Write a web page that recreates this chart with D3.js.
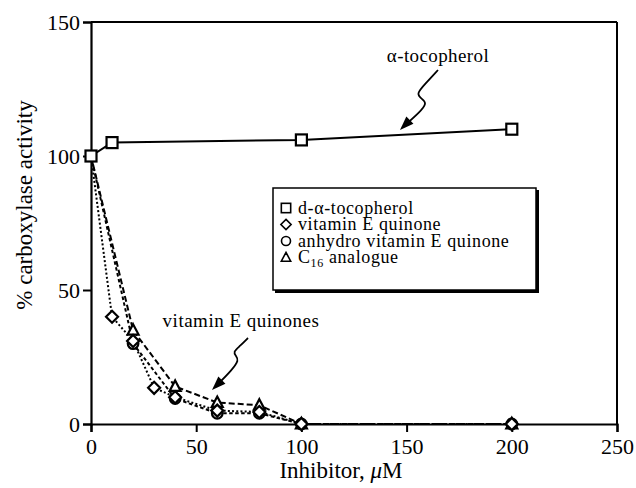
<!DOCTYPE html>
<html><head><meta charset="utf-8">
<script src="https://cdn.jsdelivr.net/npm/d3@7"></script>
<style>body{margin:0;background:#fff}svg{display:block}
svg text{font-family:"Liberation Serif","DejaVu Serif","Times New Roman",serif !important;fill:#000}</style>
</head><body>
<svg id="c" width="636" height="488"></svg>
<script>
const xTicks = [0, 50, 100, 150, 200, 250];
const yTicks = [0, 50, 100, 150];
const tocoX = [0, 10, 100, 200];
const tocoY = [100, 105, 106, 110];
const quinoneX = [0, 10, 20, 30, 40, 60, 80, 100, 200];
const quinoneY = [100, 40, 31, 13.5, 10, 5, 4.5, 0, 0];
const anhydroX = [0, 20, 40, 60, 80, 100, 200];
const anhydroY = [100, 30, 9.5, 4, 4, 0, 0];
const c16X = [0, 20, 40, 60, 80, 100, 200];
const c16Y = [100, 35, 14, 8, 7, 0, 0];
const legendLabels = ["d-α-tocopherol", "vitamin E quinone", "anhydro vitamin E quinone", "C16 analogue"];

const svg = d3.select("#c");
const L = 91, R = 617, T = 22, B = 424;
const x = d3.scaleLinear().domain([0, 250]).range([L, R]);
const y = d3.scaleLinear().domain([0, 150]).range([B, T]);

// frame
svg.append("line").attr("x1", L).attr("x2", R).attr("y1", T).attr("y2", T).attr("stroke", "#000").attr("stroke-width", 2);
svg.append("line").attr("x1", R).attr("x2", R).attr("y1", T).attr("y2", B).attr("stroke", "#000").attr("stroke-width", 2);

const xa = svg.append("g").attr("transform", `translate(0,${B})`)
  .call(d3.axisBottom(x).tickValues(xTicks).tickSize(8).tickPadding(6).tickFormat(d3.format("d")));
const ya = svg.append("g").attr("transform", `translate(${L},0)`)
  .call(d3.axisLeft(y).tickValues(yTicks).tickSize(8).tickPadding(3).tickFormat(d3.format("d")));
[xa, ya].forEach(g => {
  g.select(".domain").attr("stroke-width", 2.2);
  g.selectAll(".tick line").attr("stroke-width", 2);
  g.selectAll("text").attr("font-size", 22);
});
xa.selectAll(".tick line").attr("y1", 0);
ya.selectAll("text").attr("dy", "0.36em");

// axis labels
const xl = svg.append("text").attr("x", 341).attr("y", 478).attr("text-anchor", "middle").attr("font-size", 23);
xl.append("tspan").text("Inhibitor,  ");
xl.append("tspan").attr("font-style", "italic").text("μ");
xl.append("tspan").text("M");
svg.append("text").attr("transform", "translate(32,205) rotate(-90)").attr("text-anchor", "middle")
  .attr("font-size", 23).text("% carboxylase activity");

const line = d3.line().x(d => x(d[0])).y(d => y(d[1]));
const zip = (a, b) => a.map((v, i) => [v, b[i]]);

const series = [
  {pts: zip(quinoneX, quinoneY), dash: "2,2.2", sym: "diamond"},
  {pts: zip(anhydroX, anhydroY), dash: "3.5,2.5", sym: "circle"},
  {pts: zip(c16X, c16Y), dash: "6,3", sym: "triangle"},
];
series.forEach(s => {
  svg.append("path").attr("d", line(s.pts)).attr("fill", "none").attr("stroke", "#000")
    .attr("stroke-width", 2).attr("stroke-dasharray", s.dash);
});
svg.append("path").attr("d", line(zip(tocoX, tocoY))).attr("fill", "none").attr("stroke", "#000").attr("stroke-width", 2);

function marker(g, type, cx, cy, scale) {
  scale = scale || 1;
  let el;
  if (type === "square") {
    const h = 5.5 * scale;
    el = g.append("rect").attr("x", cx - h).attr("y", cy - h).attr("width", 2 * h).attr("height", 2 * h);
  } else if (type === "diamond") {
    const h = 6 * scale;
    el = g.append("path").attr("d", `M${cx},${cy - h}L${cx + h},${cy}L${cx},${cy + h}L${cx - h},${cy}Z`);
  } else if (type === "circle") {
    el = g.append("circle").attr("cx", cx).attr("cy", cy).attr("r", 5.3 * scale);
  } else {
    const h = 5.5 * scale;
    el = g.append("path").attr("d", `M${cx},${cy - h * 1.1}L${cx + h},${cy + h * 0.8}L${cx - h},${cy + h * 0.8}Z`);
  }
  return el;
}
const mg = svg.append("g");
series.slice().reverse().forEach(s => {
  s.pts.forEach(p => {
    if (p[0] === 0) return;
    marker(mg, s.sym, x(p[0]), y(p[1])).attr("fill", "#fff").attr("stroke", "#000").attr("stroke-width", 2.2);
  });
});
zip(tocoX, tocoY).forEach(p => {
  marker(mg, "square", x(p[0]), y(p[1])).attr("fill", "#fff").attr("stroke", "#000").attr("stroke-width", 2.2);
});

// legend
const lg = svg.append("g");
lg.append("rect").attr("x", 275).attr("y", 190).attr("width", 264).attr("height", 103).attr("fill", "#000");
lg.append("rect").attr("x", 273).attr("y", 188).attr("width", 263).attr("height", 102).attr("fill", "#fff").attr("stroke", "#000").attr("stroke-width", 1.5);
const syms = ["square", "diamond", "circle", "triangle"];
const rowY = [208, 224.5, 241, 257.5];
syms.forEach((s, i) => {
  marker(lg, s, 286, rowY[i], 0.85).attr("fill", "none").attr("stroke", "#000").attr("stroke-width", 1.6);
  const t = lg.append("text").attr("x", 298).attr("y", rowY[i] + 5.5).attr("font-size", 18).attr("letter-spacing", 0.6);
  if (i === 3) {
    t.append("tspan").text("C");
    t.append("tspan").attr("font-size", 12).attr("dy", 4).text("16");
    t.append("tspan").attr("dy", -4).text(" analogue");
  } else t.text(legendLabels[i]);
});

// annotations
svg.append("text").attr("x", 438).attr("y", 62).attr("text-anchor", "middle").attr("font-size", 19).attr("letter-spacing", 0.4).text("α-tocopherol");
svg.append("text").attr("x", 241).attr("y", 327).attr("text-anchor", "middle").attr("font-size", 19).attr("letter-spacing", 0.5).text("vitamin E quinones");

function squiggle(pts, tip, dir) {
  svg.append("path").attr("d", d3.line().curve(d3.curveBasis)(pts)).attr("fill", "none").attr("stroke", "#000").attr("stroke-width", 1.8);
  const ang = Math.atan2(dir[1], dir[0]);
  const len = 14, w = 5;
  const bx = tip[0] - len * Math.cos(ang), by = tip[1] - len * Math.sin(ang);
  const px = -Math.sin(ang) * w, py = Math.cos(ang) * w;
  svg.append("path").attr("d", `M${tip[0]},${tip[1]}L${bx + px},${by + py}L${bx - px},${by - py}Z`).attr("fill", "#000");
}
squiggle([[438, 70], [425, 84], [416, 94], [422, 99], [427, 103], [420, 112], [404, 126]], [400, 130], [-1, 1]);
squiggle([[248, 338], [240, 346], [233, 352], [236, 356], [239, 360], [232, 370], [217, 385]], [212, 390], [-1, 1]);
</script>
</body></html>
